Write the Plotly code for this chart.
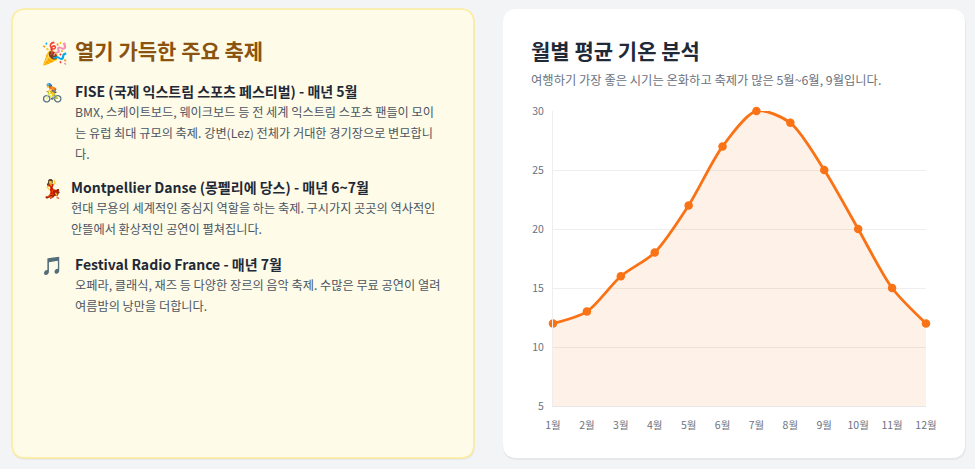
import plotly.graph_objects as go

W, H = 975, 469

months = ["1월", "2월", "3월", "4월", "5월", "6월", "7월", "8월", "9월", "10월", "11월", "12월"]
temps = [12, 13, 16, 18, 22, 27, 30, 29, 25, 20, 15, 12]

chart_title = "월별 평균 기온 분석"
chart_sub = "여행하기 가장 좋은 시기는 온화하고 축제가 많은 5월~6월, 9월입니다."

fest_header = "열기 가득한 주요 축제"
fest_icons = ["🚴", "💃", "🎵"]
fest_titles = [
    "FISE (국제 익스트림 스포츠 페스티벌) - 매년 5월",
    "Montpellier Danse (몽펠리에 당스) - 매년 6~7월",
    "Festival Radio France - 매년 7월",
]
fest_desc = [
    ["BMX, 스케이트보드, 웨이크보드 등 전 세계 익스트림 스포츠 팬들이 모이",
     "는 유럽 최대 규모의 축제. 강변(Lez) 전체가 거대한 경기장으로 변모합니",
     "다."],
    ["현대 무용의 세계적인 중심지 역할을 하는 축제. 구시가지 곳곳의 역사적인",
     "안뜰에서 환상적인 공연이 펼쳐집니다."],
    ["오페라, 클래식, 재즈 등 다양한 장르의 음악 축제. 수많은 무료 공연이 열려",
     "여름밤의 낭만을 더합니다."],
]

FONT = "Noto Sans CJK KR"


def px(x):
    return x / W


def py(y):
    return 1 - y / H


def rounded(x0, y0, x1, y1, r):
    # rounded rectangle path in paper coords, built from pixel values
    pts = [
        f"M {px(x0 + r)} {py(y0)}",
        f"L {px(x1 - r)} {py(y0)}",
        f"Q {px(x1)} {py(y0)} {px(x1)} {py(y0 + r)}",
        f"L {px(x1)} {py(y1 - r)}",
        f"Q {px(x1)} {py(y1)} {px(x1 - r)} {py(y1)}",
        f"L {px(x0 + r)} {py(y1)}",
        f"Q {px(x0)} {py(y1)} {px(x0)} {py(y1 - r)}",
        f"L {px(x0)} {py(y0 + r)}",
        f"Q {px(x0)} {py(y0)} {px(x0 + r)} {py(y0)}",
        "Z",
    ]
    return " ".join(pts)


fig = go.Figure()

fig.add_trace(go.Scatter(
    x=months, y=temps,
    mode="lines+markers",
    line=dict(color="#f97316", width=2.8, shape="spline", smoothing=0.8),
    marker=dict(color="#f97316", size=8.5),
    fill="tozeroy",
    fillcolor="rgba(249,115,22,0.1)",
    cliponaxis=False,
    hoverinfo="x+y",
))

shapes = [
    # soft shadows
    dict(type="path", xref="paper", yref="paper", layer="below",
         path=rounded(12, 11, 475, 460, 14),
         fillcolor="rgba(0,0,0,0.05)", line=dict(width=0)),
    dict(type="path", xref="paper", yref="paper", layer="below",
         path=rounded(503, 11, 966, 460, 14),
         fillcolor="rgba(0,0,0,0.05)", line=dict(width=0)),
    # cards
    dict(type="path", xref="paper", yref="paper", layer="below",
         path=rounded(12, 9, 474, 458, 14),
         fillcolor="#fefbe8", line=dict(color="#fcec9a", width=1.5)),
    dict(type="path", xref="paper", yref="paper", layer="below",
         path=rounded(503, 9, 965, 458, 14),
         fillcolor="#ffffff", line=dict(width=0)),
]

ann = []


def text(x, y, s, size, color, bold=False):
    if bold:
        s = f"<b>{s}</b>"
    ann.append(dict(x=px(x), y=py(y), xref="paper", yref="paper",
                    xanchor="left", yanchor="middle", showarrow=False,
                    text=s, font=dict(family=FONT, size=size, color=color)))


# left card
text(39, 51, "🎉", 22, "#8a5410")
text(73, 50, fest_header, 21, "#8a5410", bold=True)

title_y = [91, 187, 264]
title_x = [75, 71, 75]
for i in range(3):
    text(39, title_y[i], fest_icons[i], 18, "#1f2937")
    text(title_x[i] - 2, title_y[i], fest_titles[i], 14, "#1f2937", bold=True)
    for j, line in enumerate(fest_desc[i]):
        text(title_x[i] - 2, title_y[i] + 21 + j * 21, line, 12.2, "#4b5563")

# right card
text(529, 50, chart_title, 21, "#1f2937", bold=True)
text(529, 80, chart_sub, 12.3, "#6b7280")

fig.update_layout(
    width=W, height=H,
    margin=dict(l=0, r=0, t=0, b=0, pad=0, autoexpand=False),
    paper_bgcolor="#f3f4f6",
    plot_bgcolor="rgba(0,0,0,0)",
    showlegend=False,
    shapes=shapes,
    annotations=ann,
    font=dict(family=FONT, color="#6b7280", size=10),
    xaxis=dict(
        domain=[px(553), px(926)],
        range=[0, 11],
        showgrid=False,
        showline=True, linecolor="#e5e7eb", linewidth=1,
        ticks="", tickfont=dict(size=10.5, color="#6b7280"),
        ticklabelstandoff=9,
        automargin=False,
        fixedrange=True,
    ),
    yaxis=dict(
        domain=[py(406), py(111)],
        range=[5, 30],
        dtick=5,
        showgrid=True, gridcolor="#eeeeee",
        showline=True, linecolor="#eeeeee", linewidth=1,
        zeroline=False,
        ticks="", tickfont=dict(size=10.5, color="#6b7280"),
        ticklabelstandoff=6,
        automargin=False,
        fixedrange=True,
    ),
)

fig.write_html("out.html", post_script="document.body.style.margin='0';",
               config={"displayModeBar": False})
